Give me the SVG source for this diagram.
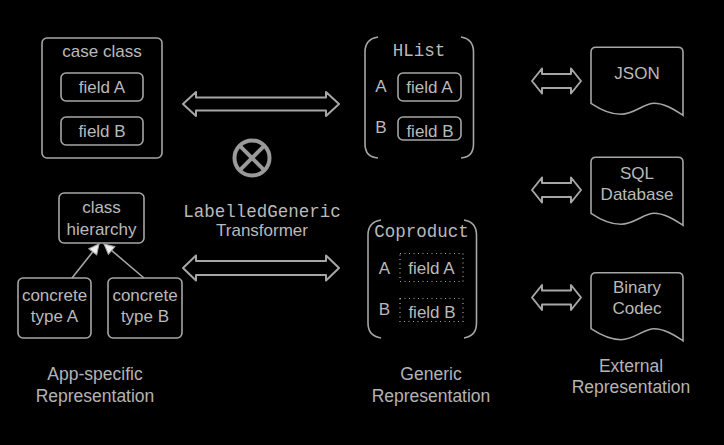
<svg xmlns="http://www.w3.org/2000/svg" width="724" height="445" viewBox="0 0 724 445">
<defs>
<style>
.box{fill:none;stroke:#a6a6a6;stroke-width:1.6}
.dot{fill:none;stroke:#a6a6a6;stroke-width:1.2;stroke-dasharray:1 3.5}
.t{font-family:"Liberation Sans",Arial,sans-serif;font-size:17px;fill:#bababa;text-anchor:middle}
.lbl{font-family:"Liberation Sans",Arial,sans-serif;font-size:17.5px;fill:#b4b4b4;text-anchor:middle}
.m{font-family:"Liberation Mono","Courier New",monospace;font-size:17.5px;fill:#bababa;text-anchor:middle}
.arr{fill:none;stroke:#a6a6a6;stroke-width:2;stroke-linejoin:round}
.gen{fill:none;stroke:#a6a6a6;stroke-width:1.6}
</style>
<marker id="tri" viewBox="0 0 12 12" refX="11" refY="6" markerWidth="12" markerHeight="12" markerUnits="userSpaceOnUse" orient="auto">
<path d="M1,1 L11,6 L1,11 Z" fill="#f0f0f0" stroke="#a6a6a6" stroke-width="1"/>
</marker>
<path id="doc" d="M0,56 V5 Q0,0 5,0 H87 Q92,0 92,5 V68 C84,63 74,56 63,56 C53,56 43,67 30,67 C19,67 9,62 0,56 Z"/>
</defs>
<rect width="724" height="445" fill="#000"/>

<g id="connectors">
<path class="arr" d="M183,104 L196,92 L196,97.5 L326,97.5 L326,92 L339,104 L326,116 L326,110.5 L196,110.5 L196,116 Z"/>
<path class="arr" d="M183,268 L196,255.5 L196,261 L326,261 L326,255.5 L339,268 L326,280.5 L326,275 L196,275 L196,280.5 Z"/>
<path class="arr" d="M532,81 L542,68.5 L542,74 L571,74 L571,68.5 L581,81 L571,93.5 L571,88 L542,88 L542,93.5 Z"/>
<path class="arr" d="M532,190 L542,177.5 L542,183 L571,183 L571,177.5 L581,190 L571,202.5 L571,197 L542,197 L542,202.5 Z"/>
<path class="arr" d="M532,297.5 L542,285 L542,290.5 L571,290.5 L571,285 L581,297.5 L571,310 L571,304.5 L542,304.5 L542,310 Z"/>
<line class="gen" x1="72" y1="278" x2="99" y2="244" marker-end="url(#tri)"/>
<line class="gen" x1="144" y1="278" x2="104" y2="244" marker-end="url(#tri)"/>
</g>

<g id="case-class">
<rect class="box" x="42" y="38" width="120" height="120" rx="5"/>
<text class="t" x="102" y="57">case class</text>
</g>
<g id="cc-field-a">
<rect class="box" x="61" y="73" width="82" height="28" rx="5"/>
<text class="t" x="102" y="93">field A</text>
</g>
<g id="cc-field-b">
<rect class="box" x="61" y="117" width="82" height="28" rx="5"/>
<text class="t" x="102" y="137">field B</text>
</g>

<g id="class-hierarchy">
<rect class="box" x="59" y="193" width="85" height="50" rx="5"/>
<text class="t" x="101.5" y="213">class</text>
<text class="t" x="101.5" y="235">hierarchy</text>
</g>
<g id="concrete-a">
<rect class="box" x="18" y="278" width="73" height="60" rx="5"/>
<text class="t" x="54.5" y="301">concrete</text>
<text class="t" x="54.5" y="322">type A</text>
</g>
<g id="concrete-b">
<rect class="box" x="108" y="278" width="74" height="60" rx="5"/>
<text class="t" x="145" y="301">concrete</text>
<text class="t" x="145" y="322">type B</text>
</g>

<g id="transformer">
<circle cx="252" cy="158" r="17.5" fill="none" stroke="#9a9a9a" stroke-width="4"/>
<line x1="239.6" y1="145.6" x2="264.4" y2="170.4" stroke="#9a9a9a" stroke-width="4"/>
<line x1="264.4" y1="145.6" x2="239.6" y2="170.4" stroke="#9a9a9a" stroke-width="4"/>
<text class="m" x="262" y="217">LabelledGeneric</text>
<text class="t" x="262" y="236">Transformer</text>
</g>

<g id="hlist">
<path class="box" d="M378,37 Q365,39 365,52 V144 Q365,157 378,158"/>
<path class="box" d="M461,37 Q473.5,39 473.5,52 V144 Q473.5,157 461,158"/>
<text class="m" x="419" y="56">HList</text>
<text class="t" x="381" y="92">A</text>
<text class="t" x="381" y="133">B</text>
</g>
<g id="hl-field-a">
<rect class="box" x="398" y="73" width="63" height="28" rx="5"/>
<text class="t" x="429.5" y="93">field A</text>
</g>
<g id="hl-field-b">
<rect class="box" x="398" y="117" width="63" height="23" rx="5"/>
<text class="t" x="430" y="137">field B</text>
</g>

<g id="coproduct">
<path class="box" d="M381,220 Q368,222 368,235 V323 Q368,336 381,338"/>
<path class="box" d="M464,220 Q476.5,222 476.5,235 V323 Q476.5,336 464,338"/>
<text class="m" x="421.5" y="237">Coproduct</text>
<text class="t" x="384.5" y="274">A</text>
<text class="t" x="384.5" y="315">B</text>
</g>
<g id="cp-field-a">
<rect class="dot" x="400" y="253.5" width="63" height="28"/>
<text class="t" x="431.5" y="274">field A</text>
</g>
<g id="cp-field-b">
<rect class="dot" x="400" y="298.5" width="63" height="23"/>
<text class="t" x="432" y="318">field B</text>
</g>

<g id="json">
<use href="#doc" class="box" transform="translate(591,47.3)"/>
<text class="t" x="637" y="79">JSON</text>
</g>
<g id="sql">
<use href="#doc" class="box" transform="translate(591,157.3)"/>
<text class="t" x="637" y="178.5">SQL</text>
<text class="t" x="637" y="200">Database</text>
</g>
<g id="binary">
<use href="#doc" class="box" transform="translate(591,272.7)"/>
<text class="t" x="637" y="293">Binary</text>
<text class="t" x="637" y="314">Codec</text>
</g>

<g id="labels">
<text class="lbl" x="95" y="380">App-specific</text>
<text class="lbl" x="95" y="401.5">Representation</text>
<text class="lbl" x="431" y="380">Generic</text>
<text class="lbl" x="431" y="401.5">Representation</text>
<text class="lbl" x="631" y="371.5">External</text>
<text class="lbl" x="631" y="393">Representation</text>
</g>
</svg>
